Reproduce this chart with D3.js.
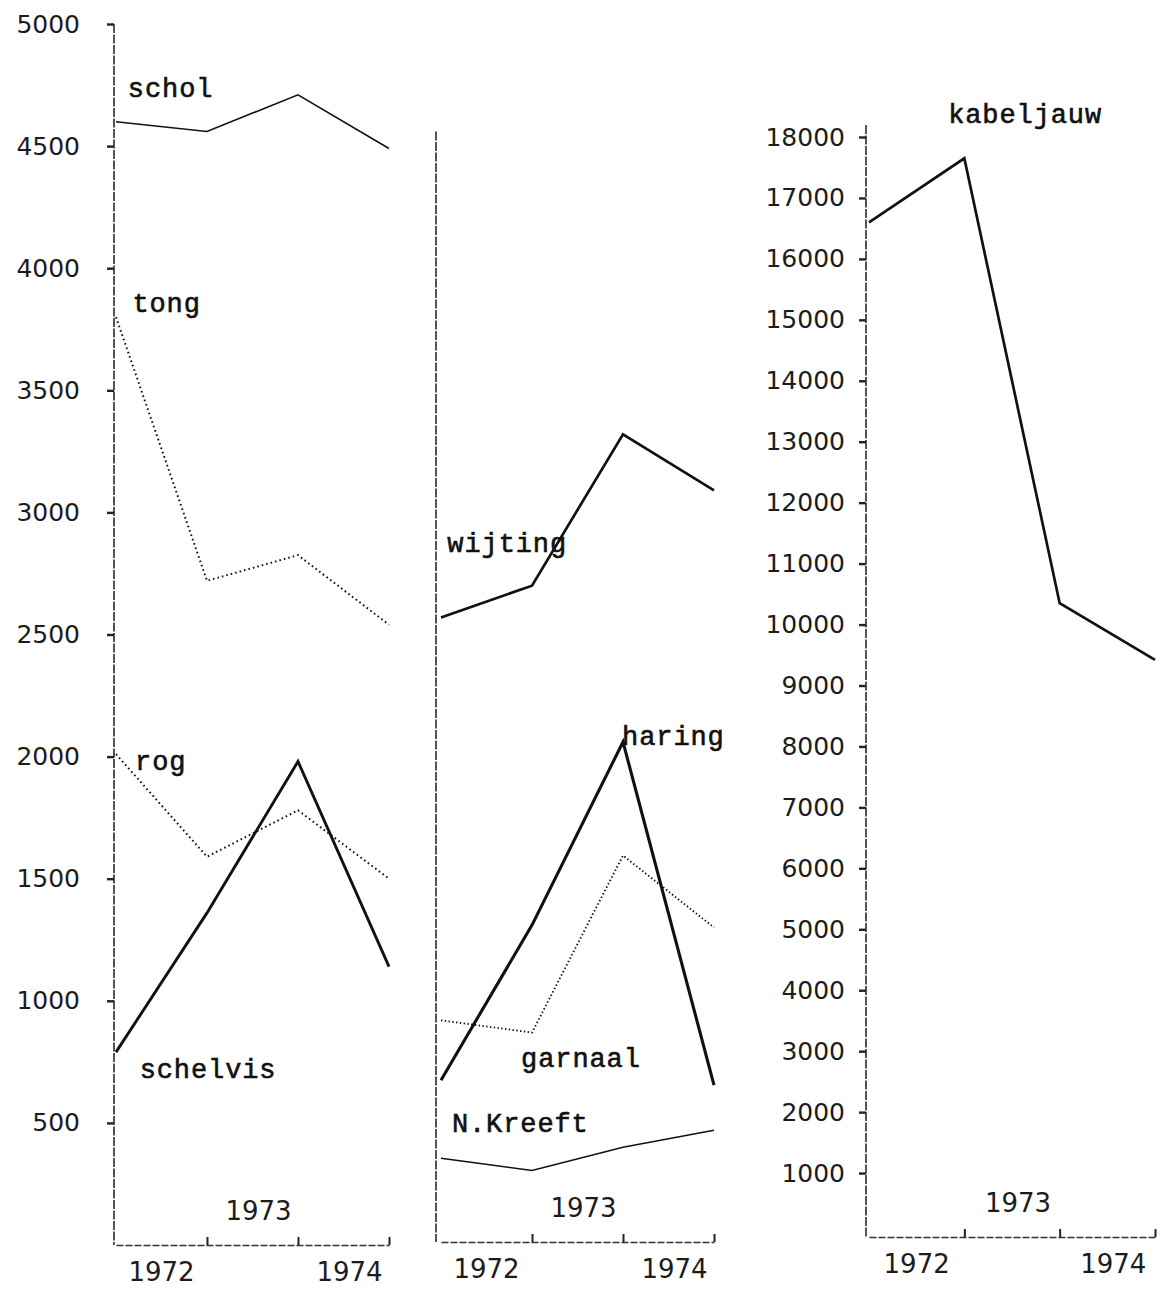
<!DOCTYPE html>
<html lang="nl">
<head>
<meta charset="UTF-8">
<title>Aanvoer vis 1972-1974</title>
<script src="https://cdn.jsdelivr.net/npm/d3@7"></script>
<style>
    body { margin: 0; background: #fff; }
    svg { display: block; }
    .tick text { font-family: "DejaVu Sans", sans-serif; font-size: 25px; fill: #1c1c1c; }
    .name { font-family: "Liberation Mono", monospace; font-size: 27px; letter-spacing: 0.9px; fill: #111; stroke: #111; stroke-width: 0.6px; }
    .year { font-family: "DejaVu Sans", sans-serif; font-size: 26px; fill: #1c1c1c; }
</style>
</head>
<body>
<svg width="1161" height="1289"></svg>
<script>
    // jaren (labels tussen de streepjes) en meetpunten
    var years = ["1972", "1973", "1974"];
    var periods = [0, 1, 2, 3];

    // linker paneel
    var schol = [4600, 4560, 4710, 4490];
    var tong = [3800, 2720, 2825, 2540];
    var rog = [2010, 1590, 1780, 1500];
    var schelvis = [790, 1360, 1980, 1140];

    // midden paneel (zelfde schaal)
    var wijting = [2570, 2700, 3320, 3090];
    var haring = [675, 1310, 2060, 655];
    var garnaal = [920, 870, 1595, 1300];
    var kreeft = [355, 305, 400, 470];

    // rechter paneel
    var kabeljauw = [16600, 17650, 10350, 9420];

    var ticksLeft = d3.range(500, 5001, 500);
    var ticksRight = d3.range(1000, 18001, 1000);

    var svg = d3.select("svg");

    // schalen
    var yA = d3.scaleLinear().domain([0, 5000]).range([1245, 24]);
    var yB = d3.scaleLinear().domain([0, 18000]).range([1234, 137]);

    var panels = [
        {
            x: d3.scaleLinear().domain([0, 3]).range([116, 389]),
            y: yA, base: 1245, axisX: 114, axisTop: 24, ticks: ticksLeft, pad: 27,
            series: [
                { name: "schol", values: schol, width: 1.6, dash: null, label: [0.13, 4700] },
                { name: "tong", values: tong, width: 2, dash: "1.6,3", label: [0.18, 3820] },
                { name: "rog", values: rog, width: 2, dash: "1.6,3", label: [0.21, 1945] },
                { name: "schelvis", values: schelvis, width: 2.9, dash: null, label: [0.26, 684] }
            ]
        },
        {
            x: d3.scaleLinear().domain([0, 3]).range([441, 714]),
            y: yA, base: 1242, axisX: 436, axisTop: yA(4560), ticks: null,
            series: [
                { name: "wijting", values: wijting, width: 2.7, dash: null, label: [0.07, 2838] },
                { name: "haring", values: haring, width: 3.1, dash: null, label: [1.99, 2047] },
                { name: "garnaal", values: garnaal, width: 1.9, dash: "1.4,2.4", label: [0.88, 729] },
                { name: "N.Kreeft", values: kreeft, width: 1.5, dash: null, label: [0.12, 463] }
            ]
        },
        {
            x: d3.scaleLinear().domain([0, 3]).range([869, 1155]),
            y: yB, base: 1237, axisX: 866, axisTop: 125, ticks: ticksRight, pad: 14,
            series: [
                { name: "kabeljauw", values: kabeljauw, width: 2.7, dash: null, label: [0.83, 18230] }
            ]
        }
    ];

    panels.forEach(function (p) {
        var g = svg.append("g");

        // verticale as
        if (p.ticks) {
            var ya = d3.axisLeft(p.y).tickValues(p.ticks).tickSize(7).tickSizeOuter(0)
                .tickPadding(p.pad).tickFormat(d3.format("d"));
            var ag = g.append("g").attr("transform", "translate(" + p.axisX + ",0)").call(ya);
            ag.select(".domain").remove();
            ag.selectAll(".tick line").attr("stroke", "#222").attr("stroke-width", 2.4);
        }
        g.append("line")
            .attr("x1", p.axisX).attr("x2", p.axisX)
            .attr("y1", p.axisTop).attr("y2", p.base)
            .attr("stroke", "#2a2a2a").attr("stroke-width", 1.6)
            .attr("stroke-dasharray", "9,1.5");

        // horizontale as met streepjes
        var xa = d3.axisBottom(p.x).tickValues([1, 2, 3]).tickSize(-8).tickSizeOuter(0).tickFormat("");
        var xg = g.append("g").attr("transform", "translate(0," + p.base + ")").call(xa);
        xg.select(".domain").attr("stroke", "#333").attr("stroke-width", 1.4).attr("stroke-dasharray", "7,2");
        xg.selectAll(".tick line").attr("stroke", "#222").attr("stroke-width", 2);

        g.selectAll(".year").data(years).enter().append("text")
            .attr("class", "year")
            .attr("text-anchor", "middle")
            .attr("x", function (d, i) { return p.x(i + 0.5) + (i === 0 ? 0 : 6); })
            .attr("y", function (d, i) { return i === 1 ? p.base - 25 : p.base + 36; })
            .text(function (d) { return d; });

        // lijnen
        var line = d3.line()
            .x(function (d, i) { return p.x(periods[i]); })
            .y(function (d) { return p.y(d); });

        p.series.forEach(function (s) {
            g.append("path")
                .datum(s.values)
                .attr("d", line)
                .attr("fill", "none")
                .attr("stroke", "#111")
                .attr("stroke-width", s.width)
                .attr("stroke-linejoin", "miter")
                .attr("stroke-dasharray", s.dash);

            g.append("text")
                .attr("class", "name")
                .attr("x", p.x(s.label[0]))
                .attr("y", p.y(s.label[1]))
                .text(s.name);
        });
    });
</script>
</body>
</html>
